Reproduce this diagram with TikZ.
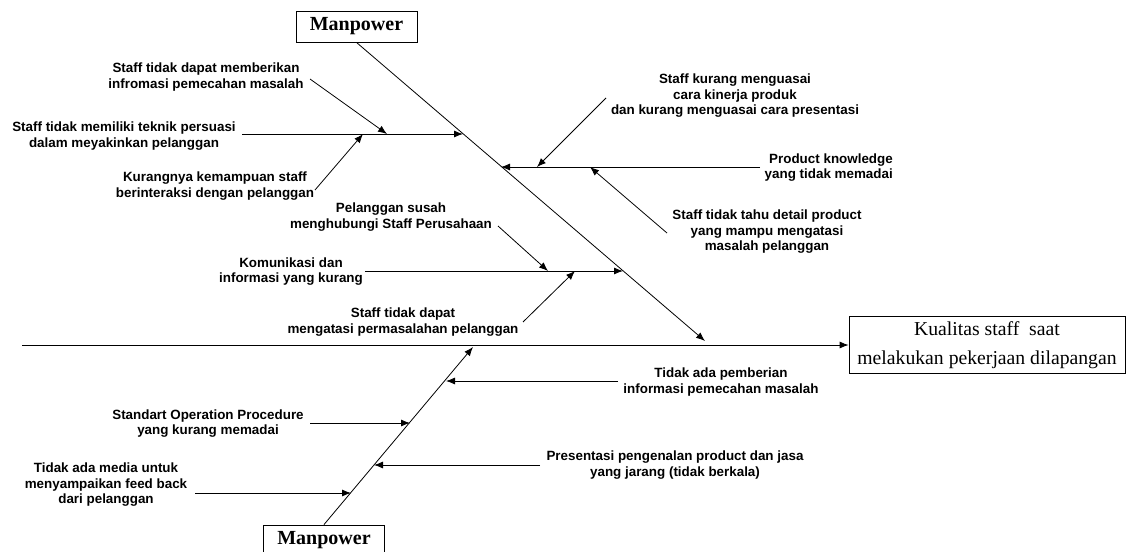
\documentclass[tikz,border=0pt]{standalone}
\usepackage{fontspec}
\newfontfamily\labfont{Liberation Sans}
\newfontfamily\serfont{Liberation Serif}
\usetikzlibrary{arrows.meta}
\begin{document}
\begin{tikzpicture}[x=1pt,y=-1pt,
  ln/.style={line width=0.8pt},
  arr/.style={ln,-{Latex[length=9pt,width=7pt]}},
  lbl/.style={font=\labfont\bfseries\fontsize{13.4}{15.5}\selectfont, align=center, inner sep=0pt},
  mpbox/.style={draw, line width=0.9pt, font=\serfont\bfseries\fontsize{20}{24}\selectfont, minimum width=121pt, minimum height=31pt, inner sep=0pt},
  effbox/.style={draw, line width=0.8pt, font=\serfont\fontsize{19.7}{29}\selectfont, align=center, minimum width=276pt, minimum height=57pt, inner sep=0pt}]
\useasboundingbox[fill=white] (0,0) rectangle (1134,551);

% heads
\node[mpbox] (mpT) at (356.5,26.5) {Manpower};
\node[mpbox] (mpB) at (324,540.5) {Manpower};
\node[effbox] (eff) at (987,345) {Kualitas staff\ \ saat\\melakukan pekerjaan dilapangan};

% spine and bones
\coordinate (sp0) at (22,345);
\draw[arr] (sp0) -- (eff.west);
\coordinate (bT) at (705,341);
\draw[arr] (mpT.south) -- (bT);
\coordinate (bB) at (473,347);
\draw[arr] (mpB.north) -- (bB);

% branch A
\coordinate (A0) at (242,134); \coordinate (A1) at (463,134);
\draw[arr] (A0) -- (A1);
\coordinate (a1s) at (310,79); \coordinate (a1e) at (387,134);
\draw[arr] (a1s) -- (a1e);
\coordinate (a2s) at (315,190); \coordinate (a2e) at (363,134);
\draw[arr] (a2s) -- (a2e);

% branch B
\coordinate (B0) at (760,167); \coordinate (B1) at (501,167);
\draw[arr] (B0) -- (B1);
\coordinate (b1s) at (606,98); \coordinate (b1e) at (537,167);
\draw[arr] (b1s) -- (b1e);
\coordinate (b2s) at (667,233); \coordinate (b2e) at (590,167);
\draw[arr] (b2s) -- (b2e);

% branch C
\coordinate (C0) at (365,271); \coordinate (C1) at (623,271);
\draw[arr] (C0) -- (C1);
\coordinate (c1s) at (498,226); \coordinate (c1e) at (548,271);
\draw[arr] (c1s) -- (c1e);
\coordinate (c2s) at (523,322); \coordinate (c2e) at (575,271);
\draw[arr] (c2s) -- (c2e);

% lower bone branches
\coordinate (d1s) at (618,381); \coordinate (d1e) at (446,381);
\draw[arr] (d1s) -- (d1e);
\coordinate (d2s) at (310,423); \coordinate (d2e) at (410,423);
\draw[arr] (d2s) -- (d2e);
\coordinate (d3s) at (540,465); \coordinate (d3e) at (374,465);
\draw[arr] (d3s) -- (d3e);
\coordinate (d4s) at (195,493); \coordinate (d4e) at (351,493);
\draw[arr] (d4s) -- (d4e);

% labels
\node[lbl] (tA1) at (206,77) {Staff tidak dapat memberikan\\infromasi pemecahan masalah};
\node[lbl] (tA) at (124,136) {Staff tidak memiliki teknik persuasi\\dalam meyakinkan pelanggan};
\node[lbl] (tA2) at (215,186) {Kurangnya kemampuan staff\\berinteraksi dengan pelanggan};
\node[lbl] (tB1) at (735,96) {Staff kurang menguasai\\cara kinerja produk\\dan kurang menguasai cara presentasi};
\node[lbl, align=right, anchor=east] (tB) at (893,167.5) {Product knowledge\\yang tidak memadai};
\node[lbl] (tB2) at (767,232) {Staff tidak tahu detail product\\yang mampu mengatasi\\masalah pelanggan};
\node[lbl] (tC) at (291,271.5) {Komunikasi dan\\informasi yang kurang};
\node[lbl] (tC1) at (391,217) {Pelanggan susah\\menghubungi Staff Perusahaan};
\node[lbl] (tC2) at (403,322) {Staff tidak dapat\\mengatasi permasalahan pelanggan};
\node[lbl] (tD1) at (721,382) {Tidak ada pemberian\\informasi pemecahan masalah};
\node[lbl] (tD2) at (208,423.5) {Standart Operation Procedure\\yang kurang memadai};
\node[lbl] (tD3) at (675,465) {Presentasi pengenalan product dan jasa\\yang jarang (tidak berkala)};
\node[lbl] (tD4) at (106,485) {Tidak ada media untuk\\menyampaikan feed back\\dari pelanggan};
\end{tikzpicture}
\end{document}
